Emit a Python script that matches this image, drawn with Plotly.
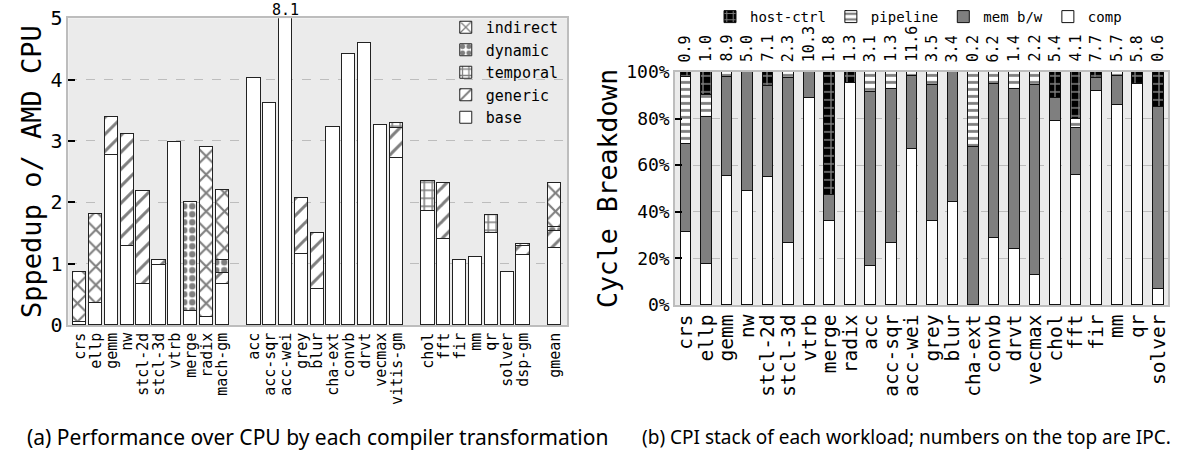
import plotly.graph_objects as go

# ---------------- Left chart data ----------------
left_cats = ["crs", "ellp", "gemm", "nw", "stcl-2d", "stcl-3d", "vtrb", "merge", "radix", "mach-gm",
             "acc", "acc-sqr", "acc-wei", "grey", "blur", "cha-ext", "convb", "drvt", "vecmax", "vitis-gm",
             "chol", "fft", "fir", "mm", "qr", "solver", "dsp-gm",
             "gmean"]
left_pos = [0, 1, 2, 3, 4, 5, 6, 7, 8, 9,
            11, 12, 13, 14, 15, 16, 17, 18, 19, 20,
            22, 23, 24, 25, 26, 27, 28,
            30]
base = [0.05, 0.35, 2.76, 1.28, 0.67, 0.97, 2.98, 0.22, 0.13, 0.66,
        4.02, 3.61, 8.1, 1.15, 0.58, 3.23, 4.41, 4.60, 3.25, 2.71,
        1.85, 1.40, 1.06, 1.11, 1.50, 0.85, 1.14,
        1.25]
generic = [None, None, 0.63, 1.83, 1.51, 0.09, None, None, None, 0.18,
           None, None, None, 0.92, 0.92, None, None, None, None, 0.50,
           None, 0.91, None, None, None, None, 0.14,
           0.27]
temporal = [None] * 10 + [None] * 9 + [0.08] + [0.50, None, None, None, 0.29, None, 0.04] + [None]
dynamic = [None, None, None, None, None, None, None, 1.78, None, 0.21] + [None] * 10 + [None] * 7 + [0.07]
indirect = [0.81, 1.46, None, None, None, None, None, None, 2.77, 1.14] + [None] * 10 + [None] * 7 + [0.72]
clip_label = "8.1"

# ---------------- Right chart data ----------------
right_cats = ["crs", "ellp", "gemm", "nw", "stcl-2d", "stcl-3d", "vtrb", "merge", "radix", "acc",
              "acc-sqr", "acc-wei", "grey", "blur", "cha-ext", "convb", "drvt", "vecmax", "chol",
              "fft", "fir", "mm", "qr", "solver"]
ipc = ["0.9", "1.0", "8.9", "5.0", "7.1", "2.3", "10.3", "1.8", "1.3", "3.1", "1.3", "11.6",
       "3.5", "3.4", "0.2", "6.2", "1.4", "2.2", "5.4", "4.1", "7.7", "5.7", "5.8", "0.6"]
comp = [31.4, 17.8, 55.5, 49.0, 54.8, 26.4, 88.9, 36.1, 95.1, 16.8, 26.7, 66.8,
        35.9, 44.0, 0.0, 28.8, 24.1, 12.8, 78.8, 55.6, 92.0, 85.7, 95.0, 7.0]
mem = [37.5, 62.7, 42.2, 51.0, 39.2, 71.0, 11.1, 11.3, 0.0, 74.7, 65.8, 31.4,
       58.5, 56.0, 67.6, 65.9, 68.4, 81.6, 9.9, 20.2, 5.5, 12.8, 0.0, 78.0]
pipeline = [28.8, 9.6, 2.3, 0.0, 0.0, 2.6, 0.0, 0.0, 0.0, 8.5, 7.5, 1.8,
            5.6, 0.0, 32.4, 5.3, 7.5, 5.6, 0.0, 4.0, 0.0, 1.5, 0.0, 0.0]
host = [2.3, 9.9, 0.0, 0.0, 6.0, 0.0, 0.0, 52.6, 4.9, 0.0, 0.0, 0.0,
        0.0, 0.0, 0.0, 0.0, 0.0, 0.0, 11.3, 20.2, 2.5, 0.0, 5.0, 15.0]
right_pos = list(range(len(right_cats)))

MONO = "DejaVu Sans Mono"
W, H = 1182, 451


def nz(v):
    return [x if x else None for x in v]


fig = go.Figure()

# Left stacked bars
left_series = [
    ("base", base, dict(shape="", bgcolor="white", fgcolor="black")),
    ("generic", generic, dict(shape="/", bgcolor="white", fgcolor="black", size=12, solidity=0.25)),
    ("temporal", temporal, dict(shape="+", bgcolor="white", fgcolor="black", size=8, solidity=0.35)),
    ("dynamic", dynamic, dict(shape=".", bgcolor="white", fgcolor="black", size=8, solidity=0.5)),
    ("indirect", indirect, dict(shape="x", bgcolor="white", fgcolor="black", size=13, solidity=0.3)),
]
for name, vals, pat in left_series:
    fig.add_trace(go.Bar(
        x=left_pos, y=vals, name=name, width=0.84,
        marker=dict(color="white", pattern=pat, line=dict(color="#222222", width=1)),
        xaxis="x", yaxis="y", legend="legend",
    ))

# Right stacked bars
right_series = [
    ("comp", comp, dict(color="white", pattern=dict(shape=""))),
    ("mem b/w", mem, dict(color="#7f7f7f", pattern=dict(shape=""))),
    ("pipeline", pipeline, dict(color="white", pattern=dict(shape="-", bgcolor="white", fgcolor="black", size=7, solidity=0.4))),
    ("host-ctrl", host, dict(color="black", pattern=dict(shape="+", bgcolor="black", fgcolor="white", size=8, solidity=0.3))),
]
for name, vals, mk in right_series:
    mk = dict(mk)
    mk["line"] = dict(color="#111111", width=1)
    fig.add_trace(go.Bar(
        x=right_pos, y=nz(vals), name=name, width=0.52,
        marker=mk, xaxis="x2", yaxis="y2", legend="legend2",
    ))

# Domains in pixels
L1, R1, T1, B1 = 68.3, 567.3, 18.3, 324.9
L2, R2, T2, B2 = 675.0, 1168.3, 71.9, 304.9
ax_common = dict(showline=True, linecolor="#bdbdbd", linewidth=1.5, mirror=True, zeroline=False,
                 automargin=False)

fig.update_layout(
    width=W, height=H, autosize=False,
    margin=dict(l=0, r=0, t=0, b=0),
    paper_bgcolor="white", plot_bgcolor="#ebebeb",
    barmode="stack", bargap=0,
    font=dict(family=MONO, color="black"),
    xaxis=dict(domain=[L1 / W, R1 / W], range=[-0.74, 30.78], tickvals=left_pos, ticktext=left_cats,
               tickangle=-90, tickfont=dict(size=15, family=MONO), showgrid=False, ticks="", **ax_common),
    yaxis=dict(domain=[1 - B1 / H, 1 - T1 / H], range=[0, 5], tickvals=[0, 1, 2, 3, 4, 5],
               tickfont=dict(size=20, family=MONO), showgrid=True, gridcolor="#bdbdbd", griddash="dash",
               ticks="inside", ticklen=7, tickcolor="black", tickwidth=1.5,
               title=dict(text="Sppedup o/ AMD CPU", font=dict(size=27, family=MONO), standoff=1),
               anchor="x", **ax_common),
    xaxis2=dict(domain=[L2 / W, R2 / W], range=[-0.535, 23.49], tickvals=right_pos, ticktext=right_cats,
                tickangle=-90, tickfont=dict(size=19.5, family=MONO), showgrid=False, ticks="",
                anchor="y2", **ax_common),
    yaxis2=dict(domain=[1 - B2 / H, 1 - T2 / H], range=[0, 100], tickvals=[0, 20, 40, 60, 80, 100],
                ticktext=["0%", "20%", "40%", "60%", "80%", "100%"],
                tickfont=dict(size=18, family=MONO), showgrid=True, gridcolor="#bdbdbd", griddash="dash",
                ticks="inside", ticklen=7, tickcolor="black", tickwidth=1.5,
                title=dict(text="Cycle Breakdown", font=dict(size=26.5, family=MONO), standoff=1),
                anchor="x2", **ax_common),
    legend=dict(x=R1 / W - 0.003, xanchor="right", y=1 - 11 / H, yanchor="top",
                traceorder="reversed", bgcolor="rgba(0,0,0,0)", font=dict(size=15, family=MONO),
                itemwidth=30, tracegroupgap=0),
    legend2=dict(x=710 / W, xanchor="left", y=1 - 1 / H, yanchor="top", orientation="h",
                 traceorder="reversed", bgcolor="rgba(0,0,0,0)", font=dict(size=14, family=MONO),
                 itemwidth=30, entrywidthmode="pixels", entrywidth=0),
)

# 8.1 label for clipped bar
fig.add_annotation(x=left_pos[left_cats.index("acc-wei")], y=5, xref="x", yref="y", text=clip_label,
                   showarrow=False, yanchor="bottom", font=dict(size=15, family=MONO), yshift=-3)

# IPC numbers on top of right chart
for p, t in zip(right_pos, ipc):
    fig.add_annotation(x=p, y=1 - 64 / H, xref="x2", yref="paper", text=t, textangle=-90,
                       showarrow=False, yanchor="bottom", xanchor="center",
                       font=dict(size=15, family=MONO))

# Captions
fig.add_annotation(x=317 / W, y=1 - 437 / H, xref="paper", yref="paper", showarrow=False,
                   text="(a) Performance over CPU by each compiler transformation",
                   font=dict(size=21, family="Noto Sans"), xanchor="center", yanchor="middle")
fig.add_annotation(x=906 / W, y=1 - 437 / H, xref="paper", yref="paper", showarrow=False,
                   text="(b) CPI stack of each workload; numbers on the top are IPC.",
                   font=dict(size=19, family="Noto Sans"), xanchor="center", yanchor="middle")

fig.write_html("out.html", config={"displayModeBar": False},
               post_script="document.body.style.margin='0px';document.body.style.overflow='hidden';")
